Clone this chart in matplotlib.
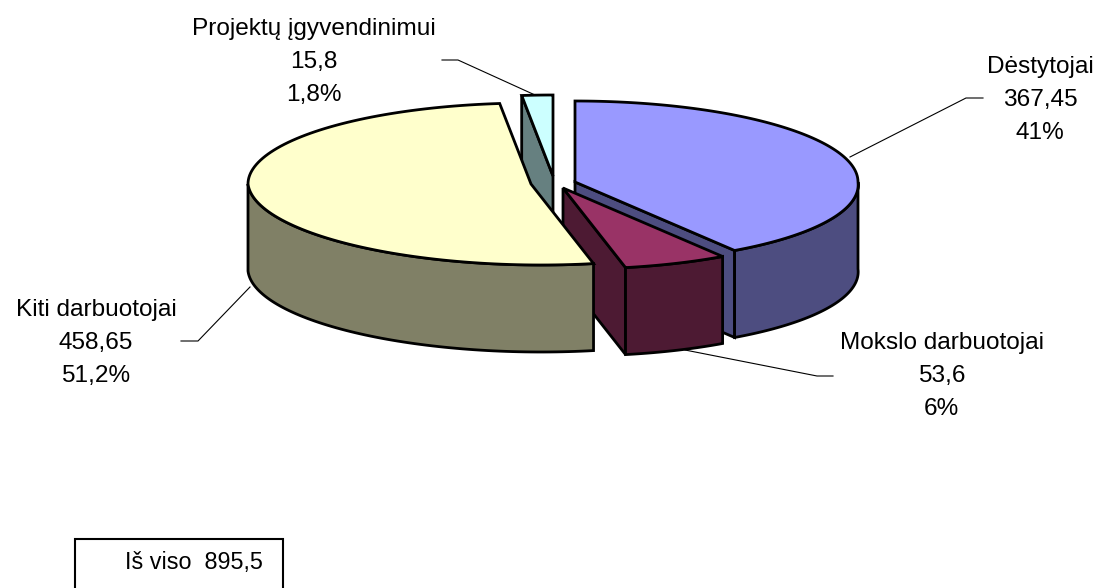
import numpy as np
from matplotlib import pyplot as plt
from matplotlib.patches import Polygon, Rectangle

names = ['Dėstytojai', 'Mokslo darbuotojai', 'Kiti darbuotojai', 'Projektų įgyvendinimui']
values = [367.45, 53.6, 458.65, 15.8]
value_labels = ['367,45', '53,6', '458,65', '15,8']
pct_labels = ['41%', '6%', '51,2%', '1,8%']
total_label = 'Iš viso  895,5'

top_colors = ['#9999FF', '#993366', '#FFFFCC', '#CCFFFF']
side_colors = ['#4D4D80', '#4D1A33', '#808066', '#668080']

# exploded slice centres, in pixels
centres = [(575, 182), (563, 188), (531, 184), (553, 176)]
RX, RY, DEPTH = 283, 81, 87
SKEW = 10

plt.rcParams['font.family'] = ['Liberation Sans', 'DejaVu Sans']
fig = plt.figure(figsize=(11.01, 5.88), dpi=100)
ax = fig.add_axes([0, 0, 1, 1])
ax.set_xlim(0, 1101)
ax.set_ylim(588, 0)
ax.axis('off')


def rim(c, t, dz=0):
    # t is clockwise from 12 o'clock; excel's perspective pushes the front to the right
    x = c[0] + RX * np.sin(t) + SKEW * np.clip(-np.cos(t), 0, None)
    y = c[1] - RY * np.cos(t) + dz
    return np.column_stack([x, y])


def face(pts, color, z):
    ax.add_patch(Polygon(pts, closed=True, fc=color, ec='black', lw=2.0,
                         joinstyle='miter', zorder=z))


bounds = np.concatenate([[0], np.cumsum(values)]) / sum(values) * 2 * np.pi

# back to front: small slice, first, second, big one
for z, i in enumerate([3, 0, 1, 2]):
    c, t0, t1 = centres[i], bounds[i], bounds[i + 1]
    base = 10 * (z + 1)
    apex = np.array([c])
    down = np.array([[0, DEPTH]])
    if t0 > 1.5 * np.pi:
        edge = rim(c, np.array([t0]))
        face(np.vstack([apex, edge, edge + down, apex + down]), side_colors[i], base)
    if t1 < np.pi:
        edge = rim(c, np.array([t1]))
        face(np.vstack([apex, edge, edge + down, apex + down]), side_colors[i], base + 1)
    w0, w1 = max(t0, np.pi / 2), min(t1, 1.5 * np.pi)
    if w1 > w0:
        tt = np.linspace(w0, w1, 80)
        face(np.vstack([rim(c, tt), rim(c, tt[::-1], DEPTH)]), side_colors[i], base + 2)
    tt = np.linspace(t0, t1, 120)
    face(np.vstack([apex, rim(c, tt)]), top_colors[i], base + 3)

# labels and leader lines
label_pos = [(1040, 100), (941.5, 376), (96, 343), (313.5, 62)]
leaders = [
    [(983, 98), (966, 98), (850, 157)],
    [(833, 376), (817, 376), (685, 350)],
    [(181, 341), (198, 341), (250, 287)],
    [(442, 60), (458, 60), (535, 95)],
]
for name, val, pct, pos, line in zip(names, value_labels, pct_labels, label_pos, leaders):
    ax.text(pos[0], pos[1], f'{name}\n{val}\n{pct}', ha='center', va='center',
            fontsize=17.6, linespacing=1.62, color='black', zorder=100)
    xs, ys = zip(*line)
    ax.plot(xs, ys, color='black', lw=0.8, zorder=99)

ax.add_patch(Rectangle((75, 539), 208, 70, fc='white', ec='black', lw=1.5, zorder=100))
ax.text(193.5, 563, total_label, ha='center', va='center', fontsize=16.8, zorder=101)

plt.savefig('out.png', dpi=100)
